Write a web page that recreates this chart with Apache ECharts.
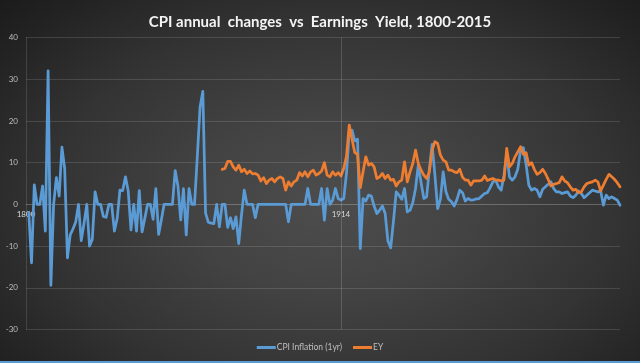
<!DOCTYPE html>
<html><head><meta charset="utf-8">
<script src="https://cdn.jsdelivr.net/npm/echarts@6/dist/echarts.min.js"></script>
<style>
html,body{margin:0;padding:0;width:640px;height:363px;overflow:hidden;background:#1e1e1e;}
#bg{position:absolute;left:0;top:0;width:640px;height:363px;background:radial-gradient(ellipse 72% 82% at 52% 56%, #4d4d4d 0%, #434343 30%, #333333 62%, #222222 88%, #1b1b1b 100%);}
#chart{position:absolute;left:0;top:0;width:640px;height:363px;}
#stripe{position:absolute;left:0;bottom:0;width:640px;height:2px;background:#5b9bd5;}
</style></head>
<body><div id="bg"></div><div id="chart"></div><div id="stripe"></div>
<script>
// Categories
const firstYear = 1800, lastYear = 2015;
const years = [];
for (let y = firstYear; y <= lastYear; y++) years.push(String(y));
const xTickLabels = ['1800', '1914'];
const markerYear = '1914';
const yMin = -30, yMax = 40, yStep = 10;

// CPI Inflation (1yr), by decade
const cpi1800s = [null, -2, -14, 4.7, 0, 0, 4.4, -6.4, 32, -19.4];
const cpi1810s = [0, 6.4, 2, 13.7, 8.6, -12.8, -7.3, -5.9, -4.2, 0];
const cpi1820s = [-8.7, -4.6, 0, -10, -8.4, 3, 0, 0, -2.9, -3.1];
const cpi1830s = [0, 0, -6.4, -3.4, 3.4, 3.3, 6.6, 3.2, -6.1, 0];
const cpi1840s = [-6.4, 3.3, -6.6, -3.4, 0, 0, -3.6, 3.8, -7.2, -3.7];
const cpi1850s = [0, 0, 0, 0, 8.1, 4.4, -3.7, 3.8, -7.3, 3.8];
const cpi1860s = [0, 0, 11.4, 23.3, 27.1, -2.1, -4.3, -4.5, -4.6, 0];
const cpi1870s = [-5.4, 0, 0, -5.5, -3.2, -5.8, -3, -9.4, -2.5, 3.4];
const cpi1880s = [0, 0, 0, -3.2, 0, 0, 0, 0, 0, 0];
const cpi1890s = [0, 0, 0, 0, 0, -4.2, 0, 0, 0, 0];
const cpi1900s = [0, 0, 3.8, 0, 0, 0, 0, 3.8, -3.8, 3.8];
const cpi1910s = [0, 1, 3.8, 1.4, 1.0, 1.4, 7.4, 17.4, 17.8, 15.2];
const cpi1920s = [15.6, -10.6, 1.4, 0.8, 2.2, 2.0, -0.4, -2.2, -1.4, -0.4];
const cpi1930s = [-2.2, -8.8, -10.4, -4.0, 3.0, 2.2, 1.2, 3.8, -1.8, -1.4];
const cpi1940s = [0.4, 3.8, 9.5, 5.2, 1.4, 1.8, 8.5, 14.4, 7.0, -1.0];
const cpi1950s = [1.2, 7.8, 3.0, 1.2, 0.6, -0.4, 1.2, 3.4, 2.8, 0.8];
const cpi1960s = [1.4, 1.0, 1.1, 1.3, 1.4, 2.0, 2.6, 2.8, 4.0, 5.4];
const cpi1970s = [5.8, 4.2, 3.4, 7.0, 12.0, 6.6, 5.8, 6.6, 8.4, 13.0];
const cpi1980s = [13.6, 9.6, 4.6, 3.4, 3.8, 3.4, 1.8, 3.6, 4.2, 4.8];
const cpi1990s = [5.4, 3.8, 3.0, 3.0, 2.6, 2.8, 3.0, 2.0, 1.6, 2.2];
const cpi2000s = [3.2, 2.6, 1.6, 2.2, 2.8, 3.4, 3.2, 3.0, 3.2, -0.2];
const cpi2010s = [2.2, 1.4, 1.8, 1.4, 1.0, -0.2];

// EY (earnings yield), starts 1871
const ey1870s = [null, 8.4, 8.6, 10.3, 10.3, 9.0, 8.2, 9.4, 7.8, 8.4];
const ey1880s = [7.4, 8.0, 7.3, 7.4, 7.0, 5.6, 6.4, 5.0, 5.8, 6.2];
const ey1890s = [5.4, 6.2, 6.6, 6.2, 3.4, 5.4, 4.4, 5.4, 5.8, 7.6];
const ey1900s = [6.8, 7.8, 6.6, 7.8, 8.2, 7.0, 7.4, 8.0, 10.0, 7.0];
const ey1910s = [6.6, 7.8, 7.0, 7.6, 6.8, 8.6, 11.5, 19.0, 15.6, 12.4];
const ey1920s = [12.0, 4.0, 7.8, 11.4, 9.4, 9.8, 9.0, 6.2, 6.6, 7.4];
const ey1930s = [6.2, 7.0, 5.8, 6.0, 4.4, 5.4, 5.8, 10.2, 5.4, 7.8];
const ey1940s = [9.8, 13.0, 9.8, 8.2, 7.0, 6.2, 7.8, 13.0, 15.0, 14.6];
const ey1950s = [11.8, 10.6, 10.2, 8.2, 8.2, 7.8, 7.6, 8.4, 6.5, 5.8];
const ey1960s = [5.8, 4.6, 5.6, 5.6, 5.6, 5.8, 6.8, 5.7, 6.0, 6.2];
const ey1970s2 = [5.8, 5.8, 5.6, 5.8, 13.4, 9.0, 9.8, 11.4, 12.6, 13.8];
const ey1980s = [12.0, 12.4, 9.4, 10.0, 8.4, 7.2, 7.6, 8.4, 7.4, 6.0];
const ey1990s = [4.4, 4.8, 5.0, 5.2, 6.6, 5.6, 5.2, 4.2, 3.4, 3.6];
const ey2000s = [2.8, 3.0, 4.2, 5.0, 5.2, 5.4, 5.8, 5.4, 3.2, 4.6];
const ey2010s = [6.0, 7.2, 6.6, 6.0, 5.2, 4.2];

const cpi = [].concat(cpi1800s, cpi1810s, cpi1820s, cpi1830s, cpi1840s, cpi1850s, cpi1860s,
  cpi1870s, cpi1880s, cpi1890s, cpi1900s, cpi1910s, cpi1920s, cpi1930s, cpi1940s, cpi1950s,
  cpi1960s, cpi1970s, cpi1980s, cpi1990s, cpi2000s, cpi2010s);
const eyBefore1870 = years.filter(y => +y < 1870).map(() => null);
const ey = [].concat(eyBefore1870, ey1870s, ey1880s, ey1890s, ey1900s, ey1910s, ey1920s, ey1930s,
  ey1940s, ey1950s, ey1960s, ey1970s2, ey1980s, ey1990s, ey2000s, ey2010s);

const gridTop = 37.5, gridBottom = 33.5, chartH = 363;
const plotH = chartH - gridTop - gridBottom;
// move the category axis up from the bottom of the grid to the zero line
const zeroOffset = -plotH * (0 - yMin) / (yMax - yMin);

const gridColor = 'rgba(255,255,255,0.13)';
const chart = echarts.init(document.getElementById('chart'));
chart.setOption({
  backgroundColor: 'transparent',
  animation: false,
  title: {
    text: 'CPI annual  changes  vs  Earnings  Yield, 1800-2015',
    left: 'center', top: 10,
    textStyle: { color: '#f4f4f4', fontSize: 15, fontWeight: 'bold', fontFamily: 'Lato' }
  },
  legend: {
    bottom: 6, left: 'center', icon: 'rect', itemWidth: 19, itemHeight: 3, itemGap: 11,
    textStyle: { color: '#bfbfbf', fontSize: 8.5, fontFamily: 'Lato', padding: [0, 0, 0, -4] },
    data: ['CPI Inflation (1yr)', 'EY']
  },
  grid: { left: 26, right: 20, top: gridTop, bottom: gridBottom },
  xAxis: {
    type: 'category', data: years, boundaryGap: false, position: 'bottom', offset: zeroOffset,
    axisLine: { show: true, onZero: false, lineStyle: { color: gridColor } },
    axisTick: { show: false },
    axisLabel: { interval: (i, v) => xTickLabels.includes(v), color: '#dadada', fontSize: 8, margin: 6, fontFamily: 'Lato' },
    splitLine: { show: false }
  },
  yAxis: {
    type: 'value', min: yMin, max: yMax, interval: yStep,
    axisLine: { show: true, lineStyle: { color: gridColor } },
    axisTick: { show: false },
    axisLabel: { color: '#bdbdbd', fontSize: 8, margin: 8, fontFamily: 'Lato' },
    splitLine: { lineStyle: { color: gridColor } }
  },
  series: [
    {
      name: 'CPI Inflation (1yr)', type: 'line', data: cpi, showSymbol: false, symbol: 'none',
      lineStyle: { color: '#5b9bd5', width: 2.75, join: 'round', cap: 'round' },
      itemStyle: { color: '#5b9bd5' },
      markLine: {
        silent: true, symbol: 'none', label: { show: false },
        lineStyle: { color: 'rgba(255,255,255,0.16)', width: 1, type: 'solid' },
        data: [{ xAxis: markerYear }]
      },
      z: 2
    },
    {
      name: 'EY', type: 'line', data: ey, showSymbol: false, symbol: 'none',
      lineStyle: { color: '#ed7d31', width: 2.75, join: 'round', cap: 'round' },
      itemStyle: { color: '#ed7d31' },
      z: 3
    }
  ]
});
</script></body></html>
